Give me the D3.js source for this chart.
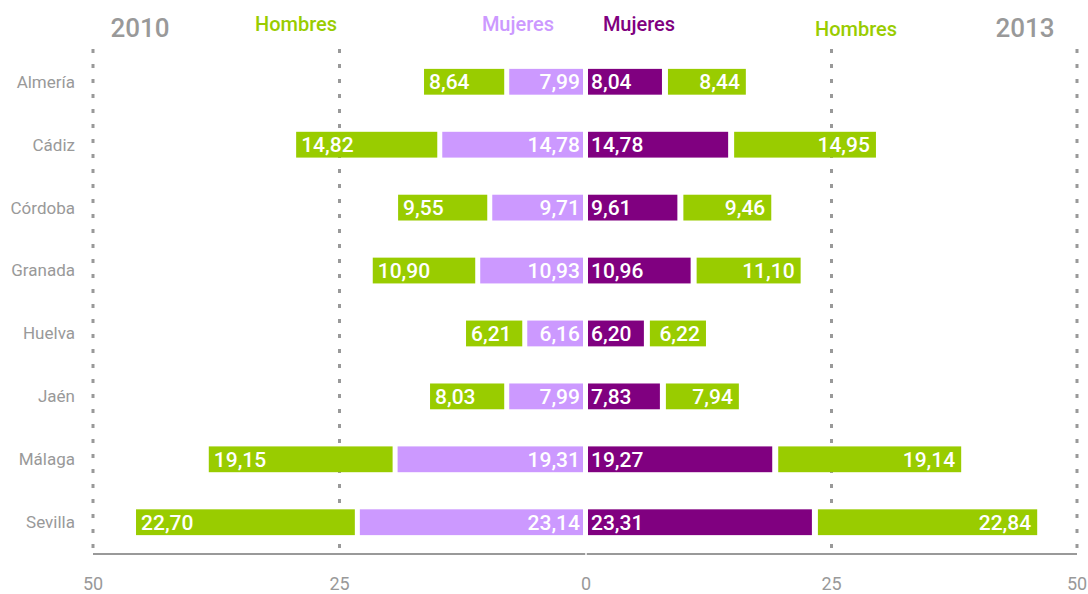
<!DOCTYPE html>
<html lang="es">
<head>
<meta charset="utf-8">
<title>2010 - 2013</title>
<script src="https://cdn.jsdelivr.net/npm/d3@7"></script>
<style>
  body { margin: 0; background: #fff; }
  svg { font-family: Roboto, "Noto Sans", sans-serif; }
  .cat { fill: #999; font-size: 17px; }
  .tick-lbl { fill: #999; font-size: 18px; }
  .val { fill: #fff; font-size: 21px; font-weight: 500; }
</style>
</head>
<body>
<script>
// data
var provincias = ["Almería", "Cádiz", "Córdoba", "Granada", "Huelva", "Jaén", "Málaga", "Sevilla"];
var mujeres2010 = [7.99, 14.78, 9.71, 10.93, 6.16, 7.99, 19.31, 23.14];
var hombres2010 = [8.64, 14.82, 9.55, 10.90, 6.21, 8.03, 19.15, 22.70];
var mujeres2013 = [8.04, 14.78, 9.61, 10.96, 6.20, 7.83, 19.27, 23.31];
var hombres2013 = [8.44, 14.95, 9.46, 11.10, 6.22, 7.94, 19.14, 22.84];
var ticks = [50, 25, 0, 25, 50];

var width = 1088, height = 594;
var verde = "#99cc00", lila = "#cc99ff", morado = "#800080", gris = "#999";

var svg = d3.select("body").append("svg")
    .attr("width", width)
    .attr("height", height);

// scales, one per side
var xL = d3.scaleLinear().domain([0, 50]).range([586, 93]);
var xR = d3.scaleLinear().domain([0, 50]).range([586, 1077]);
var y = d3.scaleBand().domain(provincias).range([50, 554]).paddingInner(0.59).paddingOuter(0.3);

// dotted gridlines
var grid = [[xL, 50], [xL, 25], [xR, 25], [xR, 50]];
svg.selectAll("line.grid").data(grid).enter().append("line")
    .attr("class", "grid")
    .attr("x1", function(d) { return d[0](d[1]); })
    .attr("x2", function(d) { return d[0](d[1]); })
    .attr("y1", 49).attr("y2", 550)
    .attr("stroke", gris).attr("stroke-width", 3)
    .attr("stroke-dasharray", "4,11");

// axis line
svg.append("line")
    .attr("x1", xL(50)).attr("x2", xR(50))
    .attr("y1", 554).attr("y2", 554)
    .attr("stroke", gris).attr("stroke-width", 2);

svg.append("line")
    .attr("x1", xL(0)).attr("x2", xL(0))
    .attr("y1", 552).attr("y2", 556)
    .attr("stroke", "#fff").attr("stroke-width", 1.5);

svg.selectAll("text.tick-lbl").data(ticks).enter().append("text")
    .attr("class", "tick-lbl")
    .attr("x", function(d, i) { return i < 2 ? xL(d) : xR(d); })
    .attr("y", 590)
    .attr("text-anchor", "middle")
    .text(function(d) { return d; });

// categories
svg.selectAll("text.cat").data(provincias).enter().append("text")
    .attr("class", "cat")
    .attr("x", 75)
    .attr("y", function(d) { return y(d) + y.bandwidth() / 2; })
    .attr("dy", "0.35em")
    .attr("text-anchor", "end")
    .text(function(d) { return d; });

function fmt(v) { return v.toFixed(2).replace(".", ","); }

// one stacked segment per province
function series(vals, base, scale, color, anchorOuter) {
    var rows = provincias.map(function(p, i) {
        return { p: p, a: base ? base[i] : 0, v: vals[i] };
    });
    var g = svg.append("g");
    var left = scale === xL;
    g.selectAll("rect").data(rows).enter().append("rect")
        .attr("x", function(d) {
            return left ? scale(d.a + d.v) + 2 : scale(d.a) + (d.a ? 3 : 2);
        })
        .attr("y", function(d) { return y(d.p); })
        .attr("width", function(d) {
            return Math.abs(scale(d.a + d.v) - scale(d.a)) - 5;
        })
        .attr("height", y.bandwidth())
        .attr("fill", color);
    g.selectAll("text").data(rows).enter().append("text")
        .attr("class", "val")
        .attr("x", function(d) {
            var outer = scale(d.a + d.v), inner = scale(d.a);
            if (left) return anchorOuter ? outer + 7 : inner - 6;
            return anchorOuter ? outer - 8 : inner + 5;
        })
        .attr("y", function(d) { return y(d.p) + y.bandwidth() / 2; })
        .attr("dy", "0.36em")
        .attr("text-anchor", function() {
            return (left === anchorOuter) ? "start" : "end";
        })
        .text(function(d) { return fmt(d.v); });
}

series(mujeres2010, null, xL, lila, false);
series(hombres2010, mujeres2010, xL, verde, true);
series(mujeres2013, null, xR, morado, false);
series(hombres2013, mujeres2013, xR, verde, true);

// headers
var heads = [
    { t: "2010", x: 140, y: 37, c: gris, s: 26, w: 500 },
    { t: "Hombres", x: 296, y: 31, c: verde, s: 20, w: 500 },
    { t: "Mujeres", x: 518, y: 31, c: lila, s: 20, w: 500 },
    { t: "Mujeres", x: 639, y: 31, c: morado, s: 20, w: 500 },
    { t: "Hombres", x: 856, y: 36, c: verde, s: 20, w: 500 },
    { t: "2013", x: 1025, y: 37, c: gris, s: 26, w: 500 }
];
svg.selectAll("text.head").data(heads).enter().append("text")
    .attr("class", "head")
    .attr("x", function(d) { return d.x; })
    .attr("y", function(d) { return d.y; })
    .attr("text-anchor", "middle")
    .attr("font-weight", function(d) { return d.w; })
    .attr("font-size", function(d) { return d.s; })
    .attr("fill", function(d) { return d.c; })
    .text(function(d) { return d.t; });
</script>
</body>
</html>
